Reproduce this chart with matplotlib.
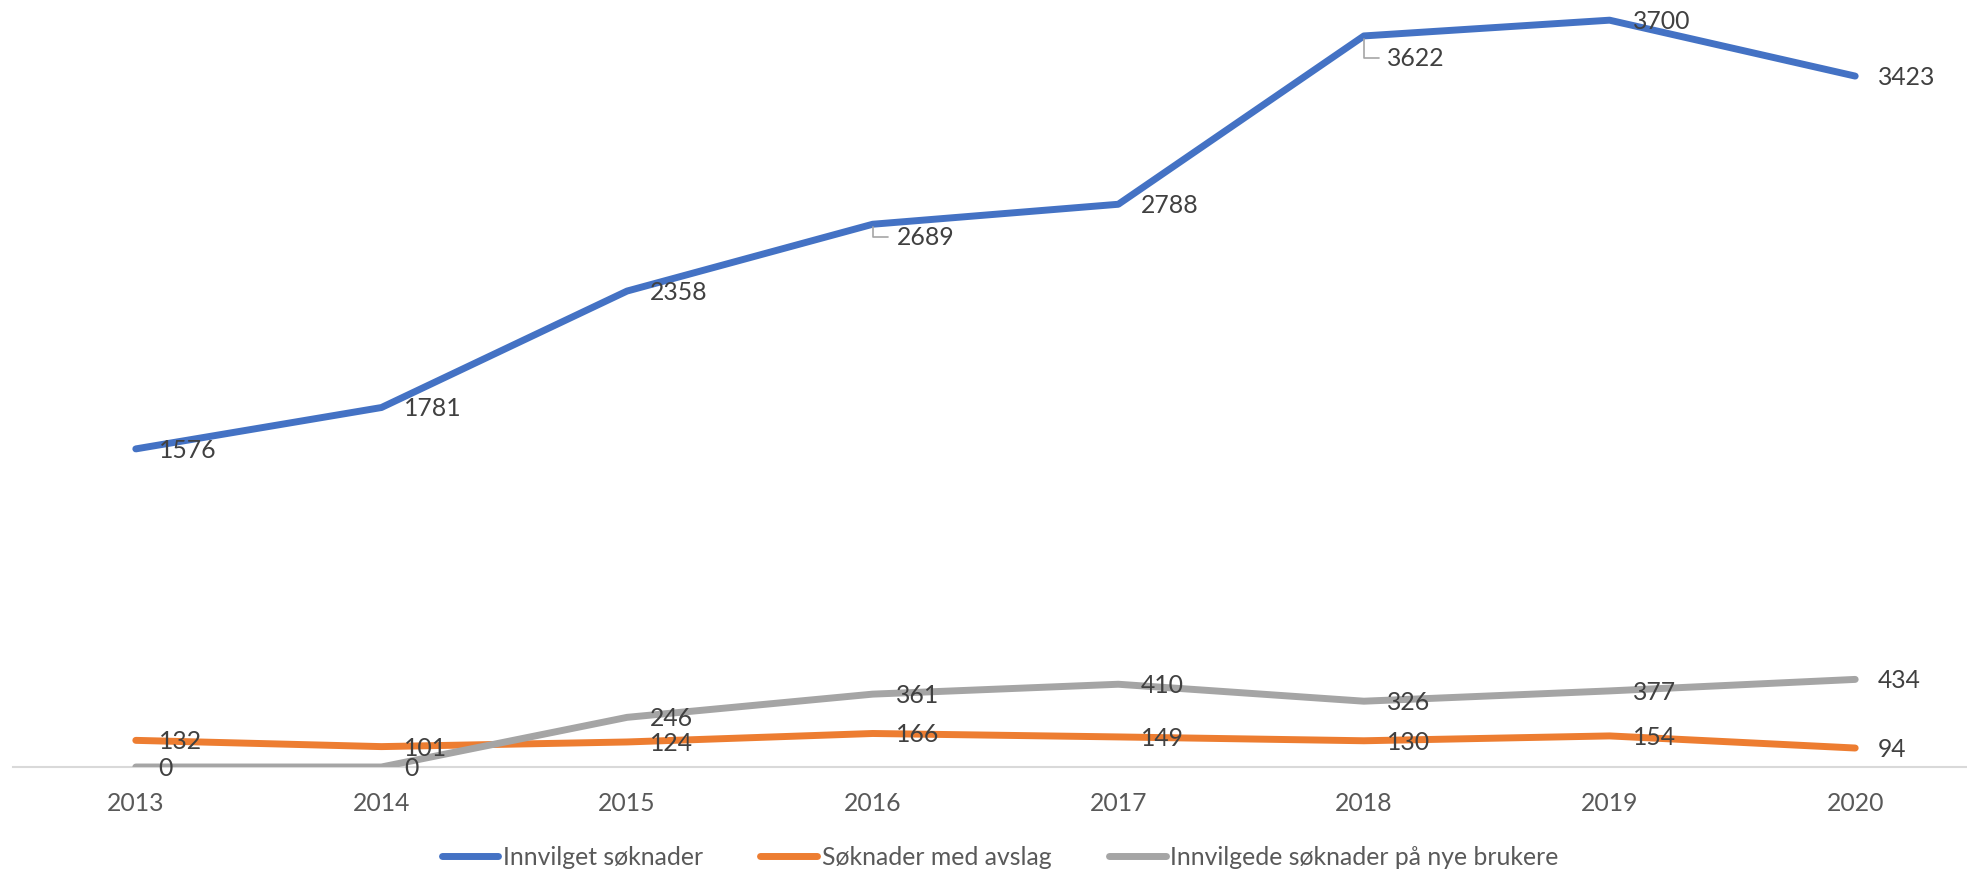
import matplotlib
matplotlib.use("Agg")
from matplotlib import pyplot as plt

years = ["2013", "2014", "2015", "2016", "2017", "2018", "2019", "2020"]
innvilget = [1576, 1781, 2358, 2689, 2788, 3622, 3700, 3423]
avslag = [132, 101, 124, 166, 149, 130, 154, 94]
nye_brukere = [0, 0, 246, 361, 410, 326, 377, 434]

series = [
    ("Innvilget søknader", innvilget, "#4472C4"),
    ("Søknader med avslag", avslag, "#ED7D31"),
    ("Innvilgede søknader på nye brukere", nye_brukere, "#A5A5A5"),
]

# labels that Excel pushed down with a leader line: index -> offset in points
moved_labels = {(0, 3): (17.3, -9.4), (0, 5): (16.5, -16)}

plt.rcParams["font.family"] = ["Lato", "DejaVu Sans"]
label_size = 17.8
text_color = "#404040"

fig = plt.figure(figsize=(19.67, 8.72), dpi=100)
ax = fig.add_axes([13 / 1967, 105 / 872, 1965 / 1967, 767 / 872])

x = list(range(len(years)))
for s, (name, values, color) in enumerate(series):
    ax.plot(x, values, color=color, lw=5, label=name,
            solid_capstyle="round", solid_joinstyle="round")
    for i, v in enumerate(values):
        if (s, i) in moved_labels:
            dx, dy = moved_labels[(s, i)]
            ax.annotate(str(v), (i, v), xytext=(dx, dy), textcoords="offset points",
                        ha="left", va="center", fontsize=label_size, color=text_color,
                        arrowprops=dict(arrowstyle="-", color="#A5A5A5", lw=1.2,
                                        relpos=(0, 0.5), shrinkA=4, shrinkB=2,
                                        connectionstyle="angle,angleA=0,angleB=90,rad=0"))
        else:
            ax.annotate(str(v), (i, v), xytext=(16.5, -1), textcoords="offset points",
                        ha="left", va="center", fontsize=label_size, color=text_color)

ax.set_xlim(-0.5, 7.5)
ax.set_ylim(0, 3800)
ax.set_xticks(x)
ax.set_xticklabels(years)
ax.tick_params(axis="x", length=0, pad=18, labelsize=label_size, labelcolor="#595959")
ax.set_yticks([])
for side in ["top", "right", "left"]:
    ax.spines[side].set_visible(False)
ax.spines["bottom"].set_color("#D9D9D9")
ax.spines["bottom"].set_linewidth(1.5)
ax.spines["bottom"].set_zorder(0)

fig.legend(loc="center", bbox_to_anchor=(0.5085, 15 / 872), ncol=3, frameon=False,
           fontsize=label_size, labelcolor="#595959", handlelength=2.3,
           handletextpad=0.2, columnspacing=2.3)

fig.savefig("out.png", dpi=100)
